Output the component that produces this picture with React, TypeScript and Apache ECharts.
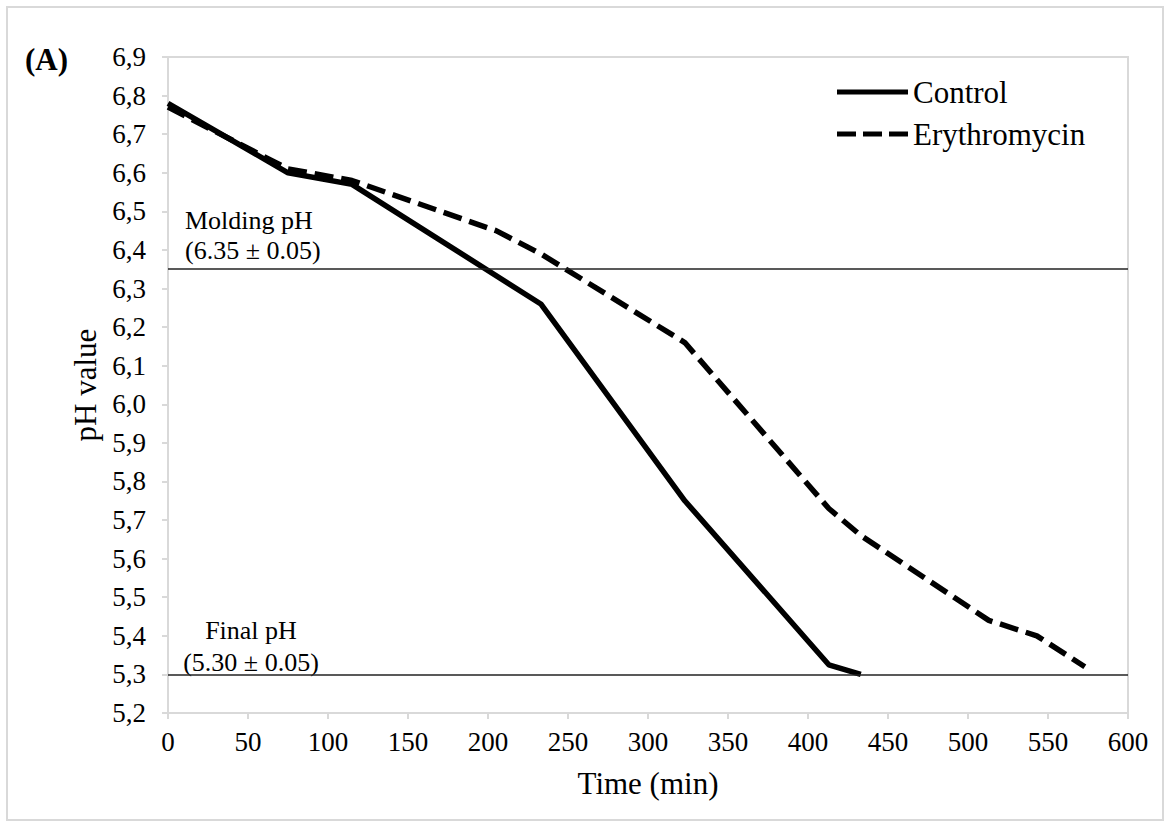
import React, { useEffect, useRef } from "react";
import * as echarts from "echarts";

// ---- data ----
const controlTime = [0, 75, 115, 233, 323, 413, 433];
const controlPH = [6.78, 6.6, 6.57, 6.26, 5.75, 5.325, 5.3];
const eryTime = [0, 75, 115, 205, 233, 323, 413, 433, 513, 543, 573];
const eryPH = [6.77, 6.61, 6.58, 6.45, 6.39, 6.16, 5.73, 5.66, 5.44, 5.4, 5.32];
const seriesNames = ["Control", "Erythromycin"];
const moldingPH = 6.35;
const finalPH = 5.3;
const moldingLabel = "Molding pH\n(6.35 ± 0.05)";
const finalLabel = "Final pH\n(5.30 ± 0.05)";
const xMin = 0;
const xMax = 600;
const xStep = 50;
const yMin = 5.2;
const yMax = 6.9;
const yStep = 0.1;
const xTitle = "Time (min)";
const yTitle = "pH value";
const panelLabel = "(A)";

const FONT = "Liberation Serif";
const GRAY = "#d9d9d9";
const DASH_ICON = "path://M0,0h19v5h-19z M26,0h19v5h-19z M52,0h19v5h-19z";

export default function App() {
  const ref = useRef<HTMLDivElement>(null);
  useEffect(() => {
    if (!ref.current) return;
    const chart = echarts.init(ref.current, undefined, { renderer: "svg" });
    const ctrl = controlTime.map((t, i) => [t, controlPH[i]]);
    const ery = eryTime.map((t, i) => [t, eryPH[i]]);
    chart.setOption({
      animation: false,
      backgroundColor: "#fff",
      textStyle: { fontFamily: FONT },
      grid: {
        left: 168,
        top: 57,
        width: 960,
        height: 656,
        show: true,
        borderColor: GRAY,
        borderWidth: 2,
        containLabel: false,
      },
      legend: {
        orient: "vertical",
        left: 832,
        top: 70,
        itemWidth: 71,
        itemHeight: 5,
        itemGap: 8,
        itemStyle: { borderWidth: 0, color: "#000" },
        data: [
          { name: seriesNames[0], icon: "rect" },
          { name: seriesNames[1], icon: DASH_ICON },
        ],
        textStyle: {
          fontFamily: FONT,
          fontSize: 31,
          color: "#000",
          lineHeight: 34,
        },
      },
      xAxis: {
        type: "value",
        min: xMin,
        max: xMax,
        interval: xStep,
        name: xTitle,
        nameLocation: "middle",
        nameGap: 55,
        nameTextStyle: { fontFamily: FONT, fontSize: 31, color: "#000" },
        axisLine: { show: true, lineStyle: { color: GRAY, width: 2 } },
        axisTick: { show: true, length: 6, lineStyle: { color: GRAY, width: 2 } },
        axisLabel: { fontFamily: FONT, fontSize: 27, color: "#000", margin: 15 },
        splitLine: { show: false },
      },
      yAxis: {
        type: "value",
        min: yMin,
        max: yMax,
        interval: yStep,
        name: yTitle,
        nameLocation: "middle",
        nameRotate: 90,
        nameGap: 62,
        nameTextStyle: { fontFamily: FONT, fontSize: 31, color: "#000" },
        axisLine: { show: true, lineStyle: { color: GRAY, width: 2 } },
        axisTick: { show: true, length: 6, lineStyle: { color: GRAY, width: 2 } },
        axisLabel: {
          fontFamily: FONT,
          fontSize: 27,
          color: "#000",
          margin: 22,
          formatter: (v: number) => v.toFixed(1).replace(".", ","),
        },
        splitLine: { show: false },
      },
      series: [
        {
          name: seriesNames[0],
          type: "line",
          data: ctrl,
          symbol: "none",
          lineStyle: { color: "#000", width: 5.5, type: "solid" },
          itemStyle: { color: "#000" },
          markLine: {
            silent: true,
            symbol: "none",
            label: { show: false },
            lineStyle: { color: "#222", width: 1.5, type: "solid" },
            data: [{ yAxis: moldingPH }, { yAxis: finalPH }],
          },
          z: 3,
        },
        {
          name: seriesNames[1],
          type: "line",
          data: ery,
          symbol: "none",
          lineStyle: { color: "#000", width: 5.5, type: [19, 8], cap: "butt" },
          itemStyle: { color: "#000" },
          z: 2,
        },
      ],
      graphic: [
        {
          type: "rect",
          shape: { x: 7, y: 7, width: 1156, height: 813 },
          style: { fill: "none", stroke: GRAY, lineWidth: 2 },
          silent: true,
        },
        {
          type: "text",
          left: 25,
          top: 44,
          style: { text: panelLabel, font: `bold 31px ${FONT}`, fill: "#000" },
        },
        {
          type: "text",
          x: 185,
          y: 205,
          style: {
            text: moldingLabel,
            font: `26px ${FONT}`,
            fill: "#000",
            textAlign: "left",
            textVerticalAlign: "top",
            lineHeight: 30,
          },
        },
        {
          type: "text",
          x: 251,
          y: 614,
          style: {
            text: finalLabel,
            font: `26px ${FONT}`,
            fill: "#000",
            textAlign: "center",
            textVerticalAlign: "top",
            lineHeight: 32,
          },
        },
      ],
    });
    return () => chart.dispose();
  }, []);
  return (
    <div
      ref={ref}
      style={{ position: "fixed", left: 0, top: 0, width: 1171, height: 828, background: "#fff" }}
    />
  );
}
